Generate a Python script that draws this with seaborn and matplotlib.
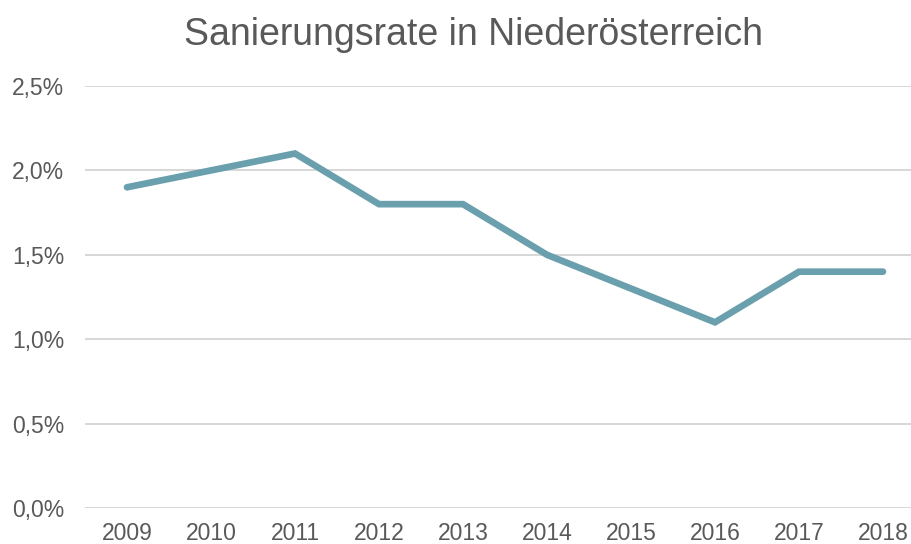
import pandas as pd
import matplotlib.pyplot as plt
import seaborn as sns
from matplotlib.ticker import FuncFormatter

# data
years = ["2009", "2010", "2011", "2012", "2013", "2014", "2015", "2016", "2017", "2018"]
rate = [1.9, 2.0, 2.1, 1.8, 1.8, 1.5, 1.3, 1.1, 1.4, 1.4]

df = pd.DataFrame({"Jahr": years, "Rate": rate})
df["x"] = range(len(df))

sns.set_style("white")
plt.rcParams["font.family"] = ["Liberation Sans", "DejaVu Sans"]

fig = plt.figure(figsize=(9.12, 5.44), dpi=100)
ax = fig.add_axes([85 / 912, 1 - 508 / 544, 840 / 912, (508 - 86) / 544])

sns.lineplot(data=df, x="x", y="Rate", ax=ax, color="#6a9fad", linewidth=4.8,
             solid_capstyle="round", solid_joinstyle="miter")

ax.set_xlim(-0.5, len(years) - 0.5)
ax.set_ylim(0, 2.5)
ax.set_yticks([0, 0.5, 1.0, 1.5, 2.0, 2.5])
ax.yaxis.set_major_formatter(FuncFormatter(lambda v, p: f"{v:.1f}%".replace(".", ",")))
ax.set_xticks(df["x"])
ax.set_xticklabels(years)
ax.grid(axis="y", color="#d4d4d4", linewidth=1.3)
ax.set_axisbelow(True)
for s in ax.spines.values():
    s.set_visible(False)
ax.tick_params(axis="both", length=0, labelsize=16.5, labelcolor="#595959")
ax.tick_params(axis="y", pad=15)
ax.tick_params(axis="x", pad=10)
ax.set_xlabel("")
ax.set_ylabel("")

fig.text(0.519, 1 - 35 / 544, "Sanierungsrate in Niederösterreich", ha="center", va="center",
         fontsize=27, color="#595959")

fig.savefig("out.png", dpi=100)
